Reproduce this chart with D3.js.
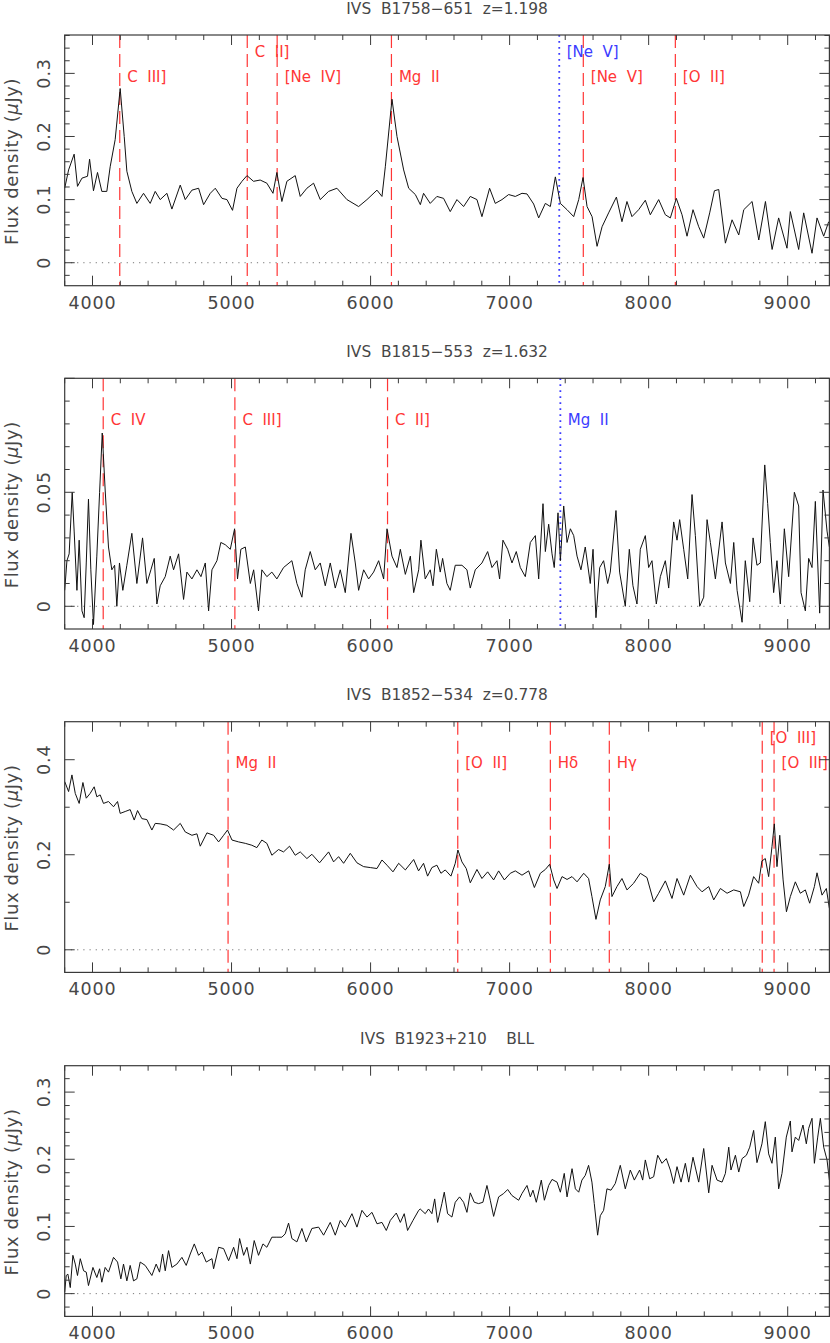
<!DOCTYPE html>
<html lang="en">
<head>
<meta charset="utf-8">
<title>Optical spectra</title>
<script src="https://cdn.jsdelivr.net/npm/d3@7/dist/d3.min.js"></script>
<style>
  body { margin: 0; padding: 0; background: #fff; }
  svg text { font-family: "DejaVu Sans", sans-serif; fill: #474747; white-space: pre; }
</style>
</head>
<body>
<div id="chart"></div>
<script>

// ---- data (wavelength in Angstrom, flux in microJy) ----
const titles = ["IVS  B1758\u2212651  z=1.198", "IVS  B1815\u2212553  z=1.632",
                "IVS  B1852\u2212534  z=0.778", "IVS  B1923+210    BLL"];

const xTicks = [4000, 5000, 6000, 7000, 8000, 9000];
const yTicks1 = [0, 0.1, 0.2, 0.3];
const yTicks2 = [0, 0.05];
const yTicks3 = [0, 0.2, 0.4];
const yTicks4 = [0, 0.1, 0.2, 0.3];

const lineNames1 = ["C  III]", "C  II]", "[Ne  IV]", "Mg  II", "[Ne  V]", "[Ne  V]", "[O  II]"];
const lineWaves1 = [4196, 5113, 5328, 6150, 7357, 7530, 8192];
const lineKind1 = ["em", "em", "em", "em", "alt", "em", "em"];

const lineNames2 = ["C  IV", "C  III]", "C  II]", "Mg  II"];
const lineWaves2 = [4077, 5024, 6122, 7365];
const lineKind2 = ["em", "em", "em", "alt"];

const lineNames3 = ["Mg  II", "[O  II]", "H\u03b4", "H\u03b3", "[O  III]", "[O  III]"];
const lineWaves3 = [4975, 6627, 7293, 7717, 8817, 8902];
const lineKind3 = ["em", "em", "em", "em", "em", "em"];

const spec1 = [
  [3800,0.118],[3828,0.147],[3868,0.172],[3892,0.121],[3924,0.134],[3964,0.137],[3979,0.164],[4007,0.114],
  [4036,0.143],[4067,0.113],[4103,0.113],[4127,0.152],[4163,0.195],[4199,0.276],[4228,0.2],[4247,0.145],
  [4283,0.113],[4319,0.094],[4367,0.110],[4415,0.094],[4451,0.113],[4487,0.1],[4535,0.11],[4571,0.085],
  [4631,0.123],[4667,0.1],[4715,0.115],[4763,0.118],[4799,0.092],[4847,0.11],[4883,0.118],[4931,0.102],
  [4967,0.1],[5007,0.083],[5039,0.118],[5075,0.129],[5111,0.138],[5158,0.129],[5206,0.131],[5254,0.126],
  [5298,0.11],[5326,0.143],[5362,0.097],[5398,0.129],[5458,0.138],[5494,0.105],[5542,0.118],[5590,0.126],
  [5638,0.1],[5698,0.113],[5758,0.118],[5830,0.1],[5914,0.089],[5974,0.1],[6046,0.115],[6082,0.105],
  [6106,0.152],[6154,0.259],[6190,0.2],[6238,0.147],[6274,0.118],[6322,0.108],[6358,0.092],[6381,0.110],
  [6429,0.094],[6477,0.105],[6525,0.102],[6573,0.081],[6621,0.1],[6669,0.089],[6717,0.105],[6765,0.1],
  [6801,0.073],[6856,0.118],[6897,0.094],[6945,0.1],[6993,0.108],[7041,0.105],[7089,0.11],[7125,0.109],
  [7173,0.093],[7209,0.071],[7257,0.094],[7293,0.089],[7329,0.136],[7365,0.094],[7413,0.084],[7461,0.073],
  [7497,0.1],[7528,0.135],[7557,0.089],[7593,0.073],[7629,0.026],[7665,0.057],[7712,0.079],[7768,0.104],
  [7808,0.065],[7844,0.097],[7880,0.073],[7928,0.084],[7976,0.099],[8012,0.076],[8072,0.1],[8120,0.076],
  [8156,0.071],[8199,0.102],[8240,0.076],[8276,0.042],[8319,0.084],[8360,0.057],[8396,0.039],[8439,0.079],
  [8473,0.114],[8504,0.116],[8552,0.031],[8600,0.068],[8648,0.044],[8684,0.084],[8744,0.097],[8792,0.036],
  [8840,0.097],[8888,0.021],[8935,0.071],[8995,0.023],[9019,0.081],[9079,0.021],[9115,0.079],[9175,0.015],
  [9211,0.071],[9259,0.042],[9295,0.065]
];

const spec2 = [
  [3800,0.007],[3816,0.020],[3832,0.023],[3854,0.050],[3868,0.033],[3888,0.007],[3904,0.029],[3924,-0.002],
  [3940,-0.005],[3955,0.019],[3971,0.047],[3988,0.016],[4007,-0.008],[4031,0.022],[4051,0.050],[4070,0.076],
  [4091,0.051],[4115,0.026],[4139,0.016],[4159,0.018],[4175,0.000],[4194,0.019],[4218,0.007],[4247,0.018],
  [4283,0.032],[4319,0.010],[4360,0.030],[4391,0.010],[4420,0.016],[4444,0.021],[4463,0.001],[4487,0.009],
  [4523,0.013],[4559,0.022],[4583,0.016],[4619,0.023],[4655,0.003],[4679,0.015],[4715,0.012],[4751,0.016],
  [4780,0.013],[4811,0.019],[4835,-0.002],[4859,0.016],[4895,0.020],[4923,0.028],[4955,0.027],[4991,0.025],
  [5022,0.034],[5043,0.012],[5067,0.025],[5099,0.026],[5135,0.010],[5159,0.016],[5194,-0.002],[5218,0.016],
  [5254,0.013],[5290,0.015],[5326,0.012],[5374,0.017],[5434,0.020],[5470,0.010],[5506,0.004],[5530,0.016],
  [5566,0.024],[5602,0.016],[5638,0.019],[5674,0.009],[5710,0.019],[5746,0.008],[5782,0.016],[5818,0.006],
  [5859,0.032],[5890,0.019],[5914,0.007],[5950,0.016],[5986,0.012],[6022,0.015],[6058,0.020],[6094,0.012],
  [6118,0.034],[6154,0.022],[6190,0.017],[6214,0.025],[6250,0.014],[6286,0.022],[6310,0.006],[6346,0.016],
  [6362,0.029],[6393,0.012],[6429,0.016],[6449,0.009],[6473,0.025],[6501,0.015],[6518,0.021],[6549,0.010],
  [6573,0.007],[6609,0.018],[6657,0.018],[6693,0.016],[6717,0.008],[6753,0.016],[6801,0.019],[6842,0.024],
  [6873,0.017],[6909,0.020],[6928,0.012],[6952,0.029],[6986,0.025],[7017,0.019],[7048,0.024],[7077,0.017],
  [7113,0.013],[7149,0.028],[7185,0.031],[7209,0.012],[7240,0.045],[7257,0.024],[7281,0.036],[7305,0.023],
  [7321,0.017],[7348,0.041],[7365,0.020],[7389,0.044],[7413,0.028],[7437,0.034],[7461,0.031],[7485,0.022],
  [7513,0.016],[7544,0.026],[7580,0.010],[7600,0.025],[7621,-0.005],[7648,0.017],[7676,0.020],[7705,0.010],
  [7724,0.015],[7765,0.042],[7791,0.015],[7832,0.000],[7861,0.025],[7887,0.009],[7916,0.001],[7940,0.025],
  [7976,0.031],[8000,0.017],[8024,0.020],[8055,0.001],[8084,0.013],[8120,0.020],[8144,0.008],[8180,0.037],
  [8204,0.029],[8223,0.038],[8252,0.025],[8281,0.012],[8312,0.049],[8336,0.031],[8367,0.000],[8396,0.004],
  [8420,0.038],[8444,0.028],[8480,0.012],[8528,0.037],[8552,0.019],[8588,0.010],[8612,0.028],[8636,0.007],
  [8672,-0.007],[8695,0.020],[8727,0.002],[8751,0.030],[8779,0.018],[8803,0.019],[8835,0.062],[8856,0.045],
  [8875,0.028],[8899,0.006],[8923,0.020],[8947,0.001],[8976,0.034],[9007,0.013],[9048,0.050],[9079,0.044],
  [9096,0.006],[9127,-0.002],[9151,0.021],[9175,0.017],[9199,0.046],[9230,-0.003],[9254,0.051],[9283,0.033],
  [9300,0.026]
];

const spec3 = [
  [3800,0.354],[3828,0.333],[3852,0.368],[3876,0.329],[3904,0.308],[3931,0.352],[3955,0.319],[3983,0.329],
  [4012,0.343],[4031,0.322],[4055,0.326],[4079,0.308],[4115,0.312],[4151,0.301],[4180,0.312],[4199,0.287],
  [4235,0.291],[4271,0.295],[4300,0.273],[4324,0.293],[4355,0.276],[4391,0.274],[4427,0.252],[4451,0.266],
  [4487,0.265],[4535,0.262],[4583,0.252],[4631,0.266],[4667,0.248],[4715,0.241],[4751,0.244],[4775,0.218],
  [4823,0.246],[4871,0.241],[4907,0.227],[4943,0.241],[4971,0.252],[5003,0.231],[5051,0.227],[5099,0.224],
  [5146,0.220],[5182,0.215],[5218,0.231],[5254,0.224],[5290,0.199],[5338,0.211],[5374,0.206],[5417,0.218],
  [5458,0.199],[5494,0.206],[5542,0.192],[5578,0.201],[5633,0.183],[5698,0.206],[5734,0.185],[5770,0.196],
  [5806,0.182],[5854,0.203],[5902,0.183],[5950,0.175],[5998,0.173],[6046,0.171],[6082,0.189],[6118,0.178],
  [6161,0.164],[6202,0.182],[6250,0.168],[6310,0.190],[6345,0.166],[6381,0.182],[6410,0.155],[6441,0.173],
  [6477,0.178],[6506,0.161],[6537,0.168],[6578,0.155],[6609,0.182],[6628,0.210],[6657,0.185],[6688,0.171],
  [6717,0.141],[6765,0.169],[6801,0.150],[6842,0.164],[6885,0.147],[6921,0.166],[6962,0.147],[7005,0.161],
  [7041,0.166],[7089,0.157],[7137,0.166],[7178,0.131],[7221,0.161],[7257,0.169],[7288,0.180],[7317,0.147],
  [7341,0.129],[7377,0.154],[7413,0.148],[7449,0.154],[7485,0.143],[7533,0.161],[7568,0.150],[7592,0.112],
  [7621,0.064],[7652,0.105],[7688,0.133],[7717,0.180],[7736,0.112],[7772,0.133],[7808,0.150],[7844,0.126],
  [7892,0.140],[7940,0.161],[7988,0.152],[8036,0.101],[8072,0.119],[8120,0.145],[8168,0.108],[8204,0.150],
  [8252,0.115],[8300,0.157],[8348,0.133],[8384,0.122],[8432,0.133],[8468,0.105],[8516,0.129],[8564,0.119],
  [8612,0.126],[8660,0.122],[8684,0.091],[8719,0.115],[8755,0.154],[8791,0.140],[8815,0.187],[8839,0.192],
  [8863,0.154],[8887,0.217],[8904,0.265],[8923,0.175],[8943,0.241],[8967,0.147],[8991,0.080],[9019,0.112],
  [9055,0.143],[9091,0.119],[9127,0.126],[9158,0.098],[9192,0.133],[9211,0.162],[9247,0.115],[9278,0.129],
  [9300,0.087]
];

const spec4 = [
  [3800,0.002],[3811,0.027],[3823,0.029],[3840,0.009],[3859,0.057],[3876,0.044],[3892,0.027],[3912,0.052],
  [3936,0.034],[3955,0.032],[3971,0.012],[4003,0.039],[4031,0.024],[4051,0.037],[4067,0.017],[4091,0.039],
  [4115,0.032],[4151,0.054],[4180,0.047],[4204,0.022],[4223,0.044],[4247,0.019],[4271,0.042],[4295,0.019],
  [4319,0.022],[4343,0.047],[4379,0.042],[4427,0.027],[4458,0.044],[4482,0.032],[4504,0.059],[4523,0.034],
  [4547,0.064],[4571,0.039],[4607,0.044],[4643,0.054],[4674,0.042],[4703,0.059],[4732,0.074],[4763,0.057],
  [4787,0.062],[4818,0.047],[4859,0.052],[4871,0.037],[4907,0.069],[4943,0.067],[4979,0.049],[5015,0.069],
  [5039,0.052],[5058,0.082],[5087,0.057],[5111,0.069],[5135,0.044],[5163,0.079],[5194,0.057],[5226,0.074],
  [5254,0.069],[5290,0.084],[5326,0.084],[5362,0.084],[5386,0.089],[5410,0.105],[5434,0.082],[5470,0.077],
  [5506,0.097],[5537,0.077],[5578,0.097],[5626,0.099],[5662,0.087],[5710,0.106],[5746,0.087],[5782,0.109],
  [5818,0.099],[5866,0.119],[5902,0.099],[5938,0.124],[5974,0.114],[6010,0.121],[6046,0.104],[6082,0.106],
  [6113,0.094],[6142,0.109],[6185,0.120],[6214,0.106],[6242,0.119],[6266,0.094],[6305,0.109],[6346,0.124],
  [6357,0.126],[6393,0.119],[6417,0.126],[6441,0.119],[6461,0.141],[6482,0.106],[6513,0.134],[6530,0.151],
  [6554,0.119],[6585,0.114],[6609,0.136],[6640,0.144],[6669,0.136],[6693,0.121],[6717,0.150],[6746,0.136],
  [6777,0.134],[6808,0.136],[6837,0.161],[6861,0.139],[6885,0.115],[6921,0.144],[6957,0.149],[6986,0.155],
  [7017,0.146],[7065,0.139],[7089,0.149],[7125,0.161],[7149,0.144],[7168,0.154],[7192,0.136],[7228,0.169],
  [7250,0.139],[7281,0.161],[7305,0.170],[7341,0.166],[7365,0.151],[7393,0.179],[7413,0.144],[7449,0.186],
  [7473,0.156],[7497,0.151],[7520,0.169],[7544,0.176],[7568,0.191],[7592,0.166],[7609,0.134],[7633,0.087],
  [7652,0.116],[7676,0.124],[7700,0.156],[7729,0.154],[7760,0.164],[7796,0.191],[7832,0.156],[7868,0.184],
  [7897,0.169],[7935,0.184],[7957,0.169],[7976,0.199],[8007,0.171],[8036,0.174],[8065,0.206],[8096,0.194],
  [8127,0.201],[8156,0.184],[8180,0.164],[8204,0.189],[8233,0.166],[8264,0.194],[8288,0.166],[8319,0.203],
  [8360,0.166],[8396,0.216],[8432,0.150],[8456,0.191],[8492,0.169],[8528,0.166],[8552,0.179],[8576,0.218],
  [8592,0.184],[8624,0.206],[8648,0.181],[8672,0.201],[8703,0.206],[8727,0.218],[8755,0.243],[8779,0.195],
  [8815,0.223],[8839,0.256],[8863,0.208],[8887,0.194],[8911,0.233],[8935,0.156],[8959,0.179],[8990,0.233],
  [9019,0.257],[9031,0.211],[9055,0.233],[9079,0.228],[9110,0.251],[9134,0.223],[9151,0.246],[9175,0.261],
  [9192,0.194],[9216,0.233],[9235,0.261],[9259,0.218],[9283,0.199],[9300,0.169]
];

// ---- layout ----
const W = 830, H = 1343;
const left = 64.7, right = 829.4;
const frameH = 250.7;
const panelTops = [35, 378.3, 721.7, 1065.7];

const panels = [
  { title: titles[0], spec: spec1, yDomain: [-0.0364, 0.3608], yMajor: 0.1,  yMinor: 0.02, yTicks: yTicks1,
    names: lineNames1, waves: lineWaves1, kinds: lineKind1 },
  { title: titles[1], spec: spec2, yDomain: [-0.00996, 0.1],   yMajor: 0.05, yMinor: 0.01, yTicks: yTicks2,
    names: lineNames2, waves: lineWaves2, kinds: lineKind2 },
  { title: titles[2], spec: spec3, yDomain: [-0.0476, 0.48],   yMajor: 0.2,  yMinor: 0.1,  yTicks: yTicks3,
    names: lineNames3, waves: lineWaves3, kinds: lineKind3 },
  { title: titles[3], spec: spec4, yDomain: [-0.0339, 0.3393], yMajor: 0.1,  yMinor: 0.02, yTicks: yTicks4,
    names: [], waves: [], kinds: [] }
];

const kindColor = { em: "#ff3636", alt: "#3b3bff" };
const frameColor = "#3a3a3a";

const svg = d3.select("#chart").append("svg")
  .attr("width", W).attr("height", H);

const x = d3.scaleLinear().domain([3800, 9300]).range([left, right]);

function tickValues(d0, d1, step) {
  var out = [];
  for (var k = Math.ceil(d0 / step - 1e-9); k * step <= d1 + 1e-9; k++) out.push(+(k * step).toFixed(6));
  return out;
}
function isMajor(v, major) {
  return Math.abs(v / major - Math.round(v / major)) < 1e-6;
}

panels.forEach(function (p, i) {
  var top = panelTops[i], bottom = top + frameH;
  var y = d3.scaleLinear().domain(p.yDomain).range([bottom, top]);
  var g = svg.append("g");

  // title
  g.append("text")
    .attr("x", (left + right) / 2).attr("y", top - 21.5)
    .attr("text-anchor", "middle")
    .style("font-size", "15.4px")
    .text(p.title);

  // zero line
  g.append("line")
    .attr("x1", left).attr("x2", right)
    .attr("y1", y(0)).attr("y2", y(0))
    .attr("stroke", "#777").attr("stroke-width", 1)
    .attr("stroke-dasharray", "1.2,5");

  // spectral line markers
  p.waves.forEach(function (w, j) {
    var kind = p.kinds[j];
    var next = p.waves[j + 1];
    var raised = next !== undefined && next - w < 300;
    g.append("line")
      .attr("x1", x(w)).attr("x2", x(w))
      .attr("y1", top).attr("y2", bottom)
      .attr("stroke", kindColor[kind])
      .attr("stroke-width", kind === "alt" ? 1.8 : 1.2)
      .attr("stroke-dasharray", kind === "alt" ? "1.8,4.2" : "13,6");
    g.append("text")
      .attr("x", x(w) + 7.5)
      .attr("y", top + (raised ? 21.7 : 46.7))
      .style("font-size", "15px")
      .style("fill", kindColor[kind])
      .text(p.names[j]);
  });

  // spectrum
  var line = d3.line()
    .x(function (d) { return x(d[0]); })
    .y(function (d) { return y(d[1]); });
  g.append("path")
    .datum(p.spec)
    .attr("d", line)
    .attr("fill", "none")
    .attr("stroke", "#111")
    .attr("stroke-width", 1)
    .attr("stroke-linejoin", "round");

  // frame
  g.append("rect")
    .attr("x", left).attr("y", top)
    .attr("width", right - left).attr("height", frameH)
    .attr("fill", "none")
    .attr("stroke", frameColor).attr("stroke-width", 1.2);

  // x ticks (bottom and top, inward)
  tickValues(3800, 9300, 200).forEach(function (v) {
    var len = isMajor(v, 1000) ? 10 : 5;
    g.append("line").attr("x1", x(v)).attr("x2", x(v))
      .attr("y1", bottom).attr("y2", bottom - len)
      .attr("stroke", frameColor).attr("stroke-width", 1);
    g.append("line").attr("x1", x(v)).attr("x2", x(v))
      .attr("y1", top).attr("y2", top + len)
      .attr("stroke", frameColor).attr("stroke-width", 1);
  });
  xTicks.forEach(function (v) {
    g.append("text")
      .attr("x", x(v)).attr("y", bottom + 23)
      .attr("text-anchor", "middle")
      .style("font-size", "17.5px")
      .style("letter-spacing", "0.9px")
      .text(v);
  });

  // y ticks (left and right, inward)
  tickValues(p.yDomain[0], p.yDomain[1], p.yMinor).forEach(function (v) {
    var len = isMajor(v, p.yMajor) ? 10 : 5;
    g.append("line").attr("x1", left).attr("x2", left + len)
      .attr("y1", y(v)).attr("y2", y(v))
      .attr("stroke", frameColor).attr("stroke-width", 1);
    g.append("line").attr("x1", right).attr("x2", right - len)
      .attr("y1", y(v)).attr("y2", y(v))
      .attr("stroke", frameColor).attr("stroke-width", 1);
  });
  p.yTicks.forEach(function (v) {
    g.append("text")
      .attr("transform", "translate(50," + y(v) + ") rotate(-90)")
      .attr("text-anchor", "middle")
      .style("font-size", "17.5px")
      .style("letter-spacing", "0.9px")
      .text(String(v));
  });

  // y label
  var yl = g.append("text")
    .attr("transform", "translate(18," + ((top + bottom) / 2 + 1) + ") rotate(-90)")
    .attr("text-anchor", "middle")
    .style("font-size", "18px")
    .style("letter-spacing", "0.6px");
  yl.append("tspan").text("Flux density (");
  yl.append("tspan").style("font-style", "italic").text("\u03bc");
  yl.append("tspan").text("Jy)");
});

</script>
</body>
</html>
